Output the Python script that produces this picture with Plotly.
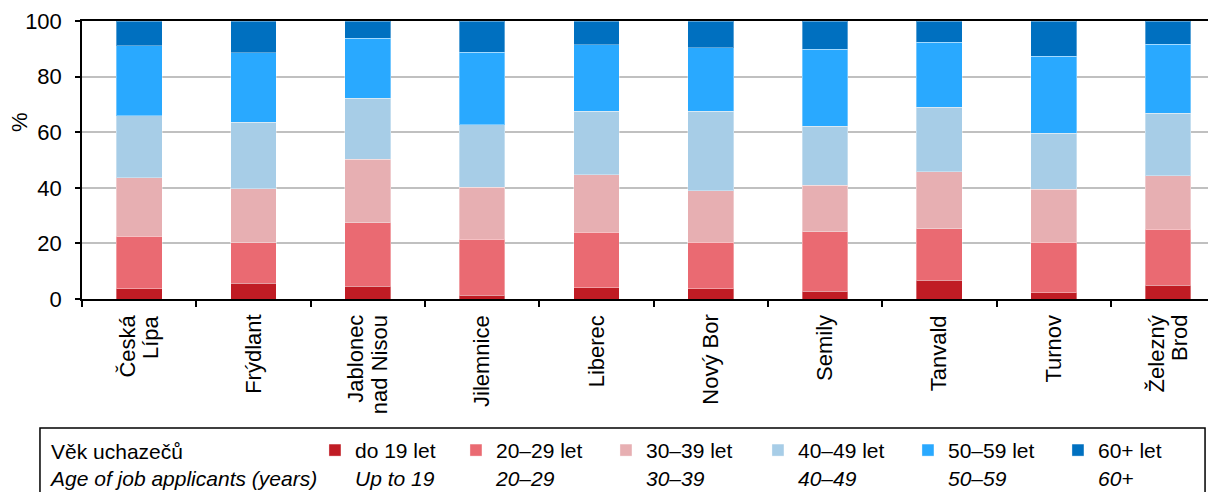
import plotly.graph_objects as go

# ---- data ----
districts = ["Česká Lípa", "Frýdlant", "Jablonec nad Nisou", "Jilemnice", "Liberec",
             "Nový Bor", "Semily", "Tanvald", "Turnov", "Železný Brod"]
district_labels = ["Česká<br>Lípa", "Frýdlant", "Jablonec<br>nad Nisou", "Jilemnice", "Liberec",
                   "Nový Bor", "Semily", "Tanvald", "Turnov", "Železný<br>Brod"]

age_up_to_19 = [3.6, 5.6, 4.6, 1.4, 4.0, 3.7, 2.8, 6.7, 2.2, 4.9]
age_20_29 = [19.0, 14.6, 22.8, 20.1, 20.1, 16.8, 21.4, 18.5, 18.2, 20.2]
age_30_39 = [21.1, 19.5, 22.8, 18.7, 20.6, 18.4, 16.7, 20.5, 19.1, 19.3]
age_40_49 = [22.3, 23.9, 22.1, 22.5, 22.9, 28.7, 21.3, 23.3, 20.2, 22.5]
age_50_59 = [25.1, 24.9, 21.5, 26.1, 23.8, 22.7, 27.7, 23.4, 27.6, 24.7]
age_60_plus = [8.9, 11.5, 6.2, 11.2, 8.6, 9.7, 10.1, 7.6, 12.7, 8.4]

series_cz = ["do 19 let", "20–29 let", "30–39 let", "40–49 let", "50–59 let", "60+ let"]
series_en = ["Up to 19", "20–29", "30–39", "40–49", "50–59", "60+"]
series_values = [age_up_to_19, age_20_29, age_30_39, age_40_49, age_50_59, age_60_plus]

legend_title_cz = "Věk uchazečů"
legend_title_en = "Age of job applicants (years)"
y_title = "%"
y_ticks = [0, 20, 40, 60, 80, 100]

# ---- styles ----
colors = ["#C01C24", "#EA6A72", "#E7AFB2", "#A7CDE7", "#29A9FF", "#0070C0"]
legend_widths = [96, 105, 107, 105, 105, 105]
FONT = "Liberation Sans, Arial, Helvetica, sans-serif"
LABEL_LINE_GAP = 24  # px between lines of the rotated district labels

fig = go.Figure()
for name_cz, name_en, vals, col, lw in zip(series_cz, series_en, series_values, colors, legend_widths):
    fig.add_trace(go.Bar(
        x=districts, y=vals,
        name=f"{name_cz}<br><i>{name_en}</i>",
        marker=dict(color=col, line=dict(color="rgba(255,255,255,0.35)", width=1)),
        width=0.4,
        legendwidth=lw,
        hovertemplate="%{x}: %{y}%<extra>" + name_cz + "</extra>",
    ))

annotations = []
for d, lab in zip(districts, district_labels):
    lines = lab.split("<br>")
    n = len(lines)
    for j, line in enumerate(lines):
        annotations.append(dict(
            x=d, xref="x", y=-0.050, yref="paper",
            xshift=(j - (n - 1) / 2) * LABEL_LINE_GAP,
            text=line, textangle=-90, showarrow=False,
            xanchor="center", yanchor="top",
            font=dict(family=FONT, size=22, color="black"),
        ))
annotations.append(dict(
    x=-0.0543, xref="paper", y=0.637, yref="paper",
    text=y_title, textangle=-90, showarrow=False,
    xanchor="center", yanchor="middle",
    font=dict(family=FONT, size=22, color="black"),
))
# legend heading (Czech + English)
annotations.append(dict(
    x=-0.0306, xref="paper", y=-0.597, yref="paper",
    text=f"{legend_title_cz}<br><i>{legend_title_en}</i>", showarrow=False,
    xanchor="left", yanchor="middle", align="left",
    font=dict(family=FONT, size=21, color="black"),
))

fig.update_layout(
    width=1216, height=492,
    margin=dict(l=74, r=0, t=13, b=201, pad=0, autoexpand=False),
    barmode="stack",
    paper_bgcolor="white", plot_bgcolor="white",
    font=dict(family=FONT, size=21, color="black"),
    showlegend=True,
    legend=dict(
        orientation="h",
        x=0.204, xanchor="left",
        y=-0.471, yanchor="top",
        borderwidth=0, bgcolor="rgba(0,0,0,0)",
        valign="top",
        traceorder="normal",
        entrywidthmode="pixels",
        font=dict(family=FONT, size=21, color="black"),
    ),
    annotations=annotations,
    shapes=[dict(
        type="rect", xref="paper", yref="paper",
        x0=-0.0368, x1=0.9834, y0=-0.464, y1=-0.80,
        line=dict(color="black", width=1.5), fillcolor="rgba(0,0,0,0)",
        layer="below",
    )],
)

fig.update_xaxes(
    type="category", range=[-0.5, 9.49],
    showline=True, linecolor="black", linewidth=1.5, mirror=True,
    ticks="outside", tickson="boundaries", ticklen=6, tickcolor="black", tickwidth=1.5,
    showticklabels=False, showgrid=False, zeroline=False,
)
fig.update_yaxes(
    range=[0, 100], tickvals=y_ticks,
    showgrid=True, gridcolor="#C0C0C0", gridwidth=1.5,
    showline=True, linecolor="black", linewidth=1.5,
    ticks="outside", ticklen=5, tickcolor="black", tickwidth=1.5,
    ticklabelstandoff=9, zeroline=False,
    tickfont=dict(family=FONT, size=22, color="black"),
)

fig.write_html("out.html")
